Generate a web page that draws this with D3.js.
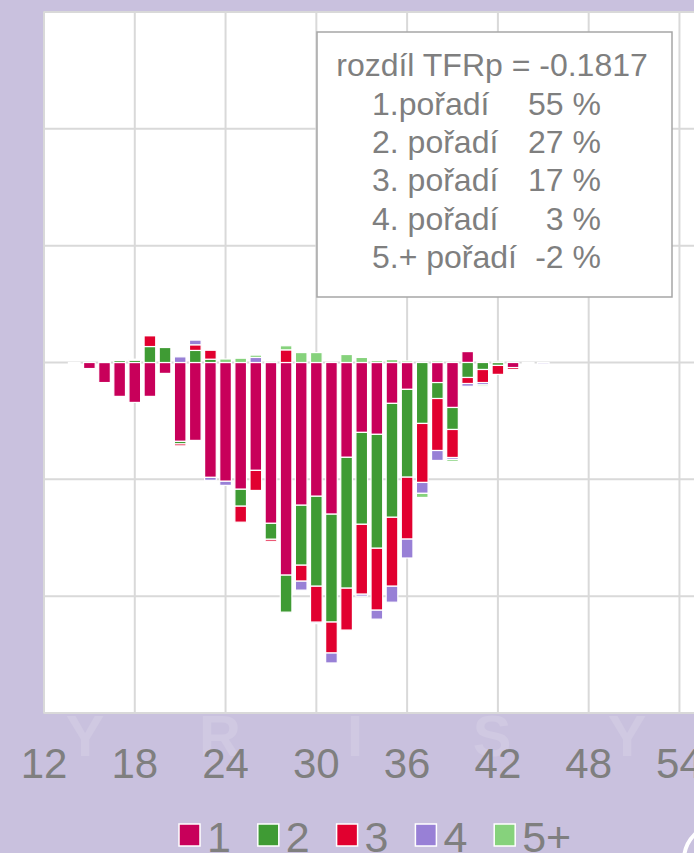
<!DOCTYPE html>
<html>
<head>
<meta charset="utf-8">
<script src="https://cdn.jsdelivr.net/npm/d3@7"></script>
<style>
  html, body { margin: 0; padding: 0; background: #c9c1de; }
  svg { display: block; font-family: "Liberation Sans", Arial, sans-serif; }
</style>
</head>
<body>
<svg id="chart" width="694" height="853"></svg>
<script>
// ages (věk matky)
const ages = [14, 15, 16, 17, 18, 19, 20, 21, 22, 23, 24, 25, 26, 27, 28, 29,
              30, 31, 32, 33, 34, 35, 36, 37, 38, 39, 40, 41, 42, 43, 44, 45];

// differences by birth order
const order1 = [-0.00005, -0.00031, -0.00103, -0.00174, -0.00205, -0.00174, -0.00056, -0.00405,
                -0.00400, -0.00590, -0.00610, -0.00651, -0.00554, -0.00826, -0.01092, -0.00733,
                -0.00687, -0.00779, -0.00487, -0.00359, -0.00369, -0.00210, -0.00138, 0,
                -0.00103, -0.00231, 0.00056, 0.00004, 0, -0.00026, 0, 0];
const order2 = [0, 0, 0.00005, 0.00010, 0.00012, 0.00082, 0.00077, -0.00013,
                0.00062, 0.00017, 0, -0.00087, 0, -0.00082, -0.00190, -0.00308,
                -0.00462, -0.00554, -0.00672, -0.00472, -0.00585, -0.00585, -0.00451, -0.00313,
                -0.00082, -0.00113, -0.00077, -0.00036, -0.00015, 0, 0, 0];
const order3 = [0, 0, 0, 0, 0.00005, 0.00056, 0, -0.00010,
                0.00029, 0.00046, 0, -0.00082, -0.00103, -0.00010, 0.00065, -0.00082,
                -0.00185, -0.00159, -0.00215, -0.00359, -0.00318, -0.00354, -0.00318, -0.00303,
                -0.00267, -0.00144, -0.00031, -0.00067, -0.00046, -0.00010, -0.00005, 0];
const order4 = [0, 0, 0, 0, 0, 0.00005, 0, 0.00029,
                0.00024, -0.00015, -0.00021, 0, 0.00026, 0, 0, -0.00046,
                -0.00007, -0.00051, 0, -0.00010, -0.00046, -0.00082, -0.00097, -0.00056,
                -0.00051, -0.00010, -0.00014, -0.00012, 0, 0, 0, -0.00007];
const order5 = [0, 0, 0, 0, 0, 0, 0, 0,
                0, 0, 0.00018, 0.00022, 0.00012, 0.00007, 0.00021, 0.00051,
                0.00051, 0, 0.00041, 0.00026, 0.00010, 0.00015, 0.00008, -0.00021,
                0.00008, -0.00010, 0, -0.00007, 0.00007, 0, 0, 0];

const seriesKeys = ["1", "2", "3", "4", "5+"];
const seriesColors = ["#c8005a", "#3f9b34", "#e1002f", "#9880d6", "#86d27c"];

const xTicks = [12, 18, 24, 30, 36, 42, 48, 54, 60];
const yTicks = [-0.018, -0.012, -0.006, 0, 0.006, 0.012, 0.018];

const boxLines = [
  ["1.pořadí", "55 %"],
  ["2. pořadí", "27 %"],
  ["3. pořadí", "17 %"],
  ["4. pořadí", "3 %"],
  ["5.+ pořadí", "-2 %"]
];
const boxTitle = "rozdíl TFRp = -0.1817";

// build rows for d3.stack
const rows = ages.map((a, i) => ({
  age: a, "1": order1[i], "2": order2[i], "3": order3[i], "4": order4[i], "5+": order5[i]
}));

const svg = d3.select("#chart");
const textGray = "#7f7f7f";

const plot = {left: 44, top: 12, bottom: 713};
const x = d3.scaleLinear().domain([12, 60]).range([plot.left, plot.left + 48 * 15.13]);
const y = d3.scaleLinear().domain([-0.018, 0.018]).range([plot.bottom, plot.top]);

// faint watermark letters in the background
svg.selectAll("text.wm")
  .data([["Y", 85], ["R", 220], ["I", 355], ["S", 492], ["Y", 627]])
  .enter().append("text")
  .attr("class", "wm")
  .attr("x", d => d[1]).attr("y", 756)
  .attr("text-anchor", "middle")
  .attr("font-size", 58).attr("font-weight", "bold")
  .attr("fill", "#ffffff").attr("fill-opacity", 0.13)
  .text(d => d[0]);

// plot area
svg.append("rect")
  .attr("x", plot.left).attr("y", plot.top)
  .attr("width", 720).attr("height", plot.bottom - plot.top)
  .attr("fill", "#ffffff").attr("stroke", "#d9d9d9").attr("stroke-width", 1.5);

// gridlines
svg.append("g").selectAll("line")
  .data(xTicks)
  .enter().append("line")
  .attr("x1", d => x(d)).attr("x2", d => x(d))
  .attr("y1", plot.top).attr("y2", plot.bottom)
  .attr("stroke", "#d9d9d9").attr("stroke-width", 2);

svg.append("g").selectAll("line")
  .data(yTicks)
  .enter().append("line")
  .attr("x1", plot.left).attr("x2", 780)
  .attr("y1", d => y(d)).attr("y2", d => y(d))
  .attr("stroke", "#d9d9d9").attr("stroke-width", 2);

// stacked bars, positive and negative parts diverging from zero
const stacked = d3.stack()
  .keys(seriesKeys)
  .offset(d3.stackOffsetDiverging)(rows);

const halfW = 0.385;
svg.append("g").selectAll("g")
  .data(stacked)
  .enter().append("g")
  .attr("fill", (d, i) => seriesColors[i])
  .selectAll("rect")
  .data(d => d.filter(s => Math.abs(s[1] - s[0]) > 0))
  .enter().append("rect")
  .attr("x", d => x(d.data.age - halfW))
  .attr("width", d => x(d.data.age + halfW) - x(d.data.age - halfW))
  .attr("y", d => y(Math.max(d[0], d[1])))
  .attr("height", d => Math.abs(y(d[0]) - y(d[1])))
  .attr("stroke", "#ffffff").attr("stroke-width", 1.2);

// x tick labels
svg.append("g").selectAll("text")
  .data(xTicks)
  .enter().append("text")
  .attr("x", d => x(d)).attr("y", 778)
  .attr("text-anchor", "middle")
  .attr("font-size", 42)
  .attr("fill", textGray)
  .text(d => d);

// info box
const box = svg.append("g");
box.append("rect")
  .attr("x", 317).attr("y", 32).attr("width", 355).attr("height", 265)
  .attr("fill", "#ffffff").attr("stroke", "#a6a6a6").attr("stroke-width", 1.5);
box.append("text")
  .attr("x", 492).attr("y", 76)
  .attr("text-anchor", "middle").attr("font-size", 32).attr("fill", textGray)
  .text(boxTitle);
box.selectAll("text.lbl")
  .data(boxLines)
  .enter().append("text")
  .attr("class", "lbl")
  .attr("x", 372).attr("y", (d, i) => 114.5 + i * 38.4)
  .attr("font-size", 32).attr("fill", textGray)
  .text(d => d[0]);
box.selectAll("text.pct")
  .data(boxLines)
  .enter().append("text")
  .attr("class", "pct")
  .attr("x", 601).attr("y", (d, i) => 114.5 + i * 38.4)
  .attr("text-anchor", "end")
  .attr("font-size", 32).attr("fill", textGray)
  .text(d => d[1]);

// legend
const legend = svg.append("g").selectAll("g")
  .data(seriesKeys)
  .enter().append("g")
  .attr("transform", (d, i) => "translate(" + (179 + i * 78.8) + ",0)");
legend.append("rect")
  .attr("x", 0).attr("y", 824).attr("width", 21).attr("height", 22)
  .attr("fill", (d, i) => seriesColors[i])
  .attr("stroke", "#ffffff").attr("stroke-width", 1.5);
legend.append("text")
  .attr("x", 28).attr("y", 852)
  .attr("font-size", 43).attr("fill", textGray)
  .text(d => d);

// piece of the logo in the corner
svg.append("circle")
  .attr("cx", 720).attr("cy", 860).attr("r", 36)
  .attr("fill", "none").attr("stroke", "#ffffff").attr("stroke-width", 4);
</script>
</body>
</html>
